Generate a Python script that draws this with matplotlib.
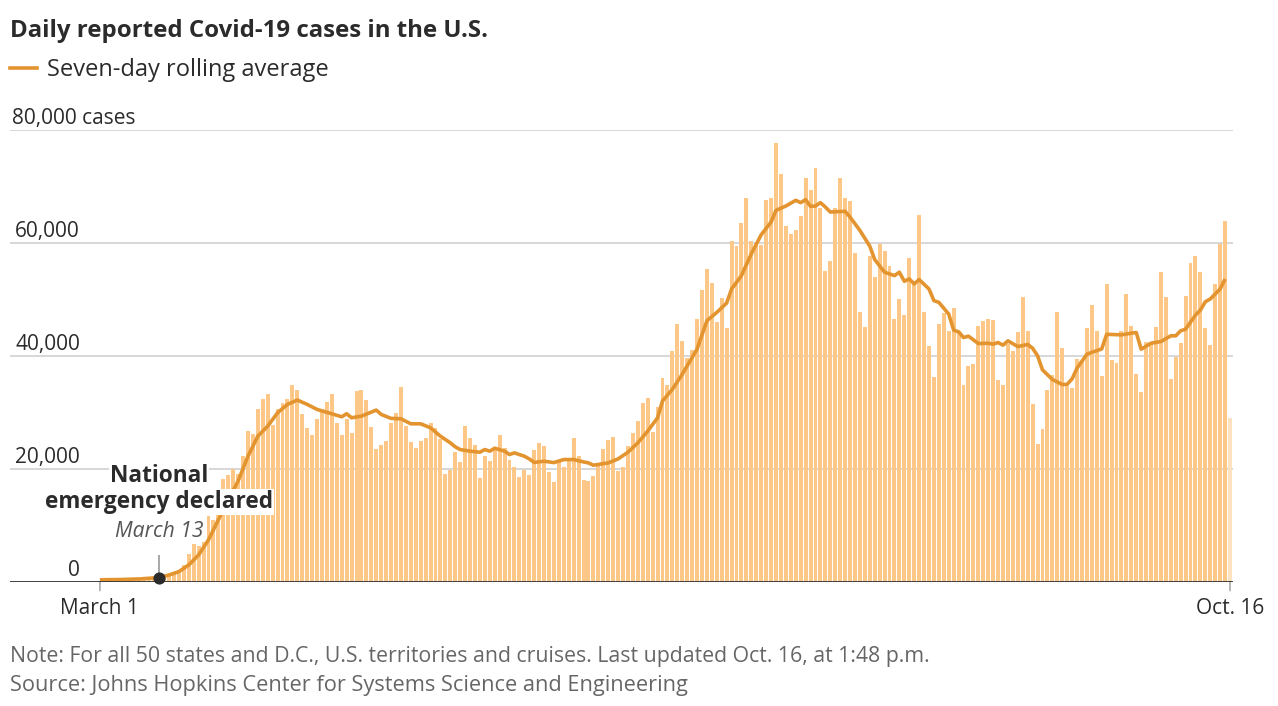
import matplotlib
matplotlib.use("Agg")
import matplotlib.pyplot as plt
from matplotlib.transforms import blended_transform_factory

plt.rcParams['font.family'] = ['Open Sans', 'DejaVu Sans']

# daily reported cases, March 1 (day 0) .. Oct. 16 (day 229)
cases = [
    10, 20, 25, 30, 70, 70, 100, 120, 200, 290, 280, 420, 650, 900,
    1100, 1750, 1930, 2930, 4890, 6610, 6310, 6960, 11530, 10820, 11820, 18170, 18940, 19940, 19110,
    22190, 26630, 26050, 30620, 32300, 33300, 27800, 30500, 31700, 32300, 34900, 33900, 29600, 27200,
    26000, 28800, 30500, 31800, 33160, 28120, 25870, 28710, 26340, 33690, 33870, 32090, 27350, 23500,
    24200, 24980, 28120, 29780, 34520, 27530, 24800, 23680, 24860, 25450, 28120, 27110, 25280, 19110,
    19700, 23020, 21250, 27590, 25510, 24270, 18400, 22310, 21300, 23680, 25870, 23680, 21480, 20300,
    18520, 19820, 18880, 23230, 24570, 24090, 19470, 17630, 21120, 20230, 21900, 25460, 22190, 18050,
    17750, 18640, 20590, 23500, 25160, 25570, 19650, 20230, 24090, 26230, 28480, 31560, 32510, 26460,
    30850, 36000, 34760, 40860, 45600, 42640, 39560, 41040, 46500, 51650, 55380, 52840, 46020, 50230,
    44890, 60420, 59530, 63560, 68010, 60420, 59830, 59600, 67530, 67950, 77610, 72280, 62980, 61560,
    62200, 64690, 71560, 69430, 73340, 66200, 55090, 56870, 66170, 71560, 68010, 67420, 58170, 47680,
    45130, 57760, 54020, 59830, 58590, 55980, 46500, 50050, 47210, 57340, 53020, 64870, 47680, 41690,
    36180, 45600, 47500, 44420, 48450, 44420, 34760, 38130, 38490, 45310, 46140, 46500, 46320, 35650,
    34820, 42050, 40870, 44120, 50350, 44300, 31380, 24300, 27060, 33870, 36600, 47800, 41400, 34600,
    34200, 39500, 39000, 45000, 49000, 44300, 36500, 52720, 39200, 38730, 44360, 50940, 45190, 36720,
    33640, 42350, 42350, 45130, 54800, 50350, 35830, 39800, 42230, 50650, 56450, 57700, 54910, 44890,
    41990, 52720, 59780, 63920, 28950,
]

# seven-day rolling average as drawn, (day, cases)
avg_days = [0, 4, 8, 12, 14, 16, 18, 20, 22, 24, 26, 28, 30, 32, 34, 36, 38, 40, 42, 44, 47, 49,
            50, 51, 53, 56, 57, 59, 61, 63, 65, 67, 69, 71, 72, 73, 75, 77, 78, 79, 80, 82, 83, 84,
            86, 87, 88, 90, 92, 94, 96, 98, 99, 100, 102, 103, 105, 107, 109, 111, 113, 114, 116,
            118, 121, 123, 125, 127, 128, 130, 132, 134, 136, 137, 139, 141, 142, 143, 144, 145,
            146, 147, 148, 151, 152, 154, 156, 157, 159, 161, 162, 163, 164, 165, 166, 168, 169,
            170, 172, 173, 174, 175, 176, 178, 180, 181, 182, 183, 184, 186, 188, 189, 190, 191,
            193, 195, 196, 197, 198, 200, 201, 203, 204, 207, 209, 210, 211, 213, 215, 217, 218,
            219, 220, 222, 223, 224, 225, 227, 228]
avg_vals = [300, 350, 450, 700, 1150, 1750, 2930, 4710, 7380, 10940, 14490, 17800, 22190, 25750,
            27530, 29900, 31380, 32150, 31380, 30490, 29720, 29190, 29720, 29010, 29310, 30370,
            29600, 28900, 28830, 27940, 27940, 27230, 25750, 24570, 23860, 23380, 23090, 22910,
            23380, 23090, 23620, 23090, 22500, 22790, 22200, 21720, 21100, 21310, 21070, 21610,
            21610, 21190, 21010, 20600, 20890, 21010, 21720, 22910, 24570, 26640, 29010, 31980,
            34050, 36720, 41160, 46200, 47680, 49340, 51830, 54200, 58060, 61440, 63690, 65760,
            66530, 67540, 67130, 67660, 66470, 66530, 67130, 66350, 65470, 65590, 64580, 62210,
            59420, 57050, 54800, 54200, 54800, 53200, 53620, 52730, 53500, 51830, 49760, 49460,
            47380, 44540, 44240, 43230, 43470, 42160, 42220, 42050, 42340, 41870, 42640, 41630,
            42000, 41330, 40000, 37500, 35800, 34900, 34940, 35900, 37800, 40270, 40600, 41200,
            43800, 43700, 44000, 44120, 41160, 42220, 42520, 43530, 43530, 44420, 44710, 47200,
            48090, 49570, 50050, 51830, 53610]

y_ticks = [0, 20000, 40000, 60000, 80000]
y_labels = ['0', '20,000', '40,000', '60,000', '80,000 cases']
x_ticks = [0, 229]
x_labels = ['March 1', 'Oct. 16']

emergency_day = 12
emergency_val = 700

bar_color = '#fcc787'
partial_color = '#fde2c0'
line_color = '#e3942f'
text_color = '#2b2b2b'
grey = '#666666'

W, H = 1278, 706
fig = plt.figure(figsize=(W / 100, H / 100), dpi=100)
ax = fig.add_axes([10 / W, (H - 581.5) / H, 1223 / W, 451.5 / H])
px_per_day = 4.939
ax.set_xlim(-90 / px_per_day, 229 + 3 / px_per_day)
ax.set_ylim(0, 80000)
ax.axis('off')

for v in y_ticks[1:]:
    ax.axhline(v, color='#cdcdcd', lw=1.1, zorder=0)
ax.axhline(0, color='#333333', lw=1.3, zorder=4)

days = list(range(len(cases)))
colors = [bar_color] * (len(cases) - 1) + [partial_color]
ax.bar(days, cases, width=0.8, color=colors, zorder=1, linewidth=0)
ax.plot(avg_days, avg_vals, color=line_color, lw=2.6, zorder=3, solid_capstyle='butt',
        solid_joinstyle='round', clip_on=False)

# y labels
tr = blended_transform_factory(ax.transAxes, ax.transData)
lab_x = 70 / 1223
for v, lab in zip(y_ticks, y_labels):
    if lab.endswith('cases'):
        ax.annotate(lab, xy=(2 / 1223, v), xycoords=tr, xytext=(0, 6), textcoords='offset pixels',
                    ha='left', va='baseline', fontsize=15, color=text_color)
    else:
        ax.annotate(lab, xy=(lab_x, v), xycoords=tr, xytext=(0, 6), textcoords='offset pixels',
                    ha='right', va='baseline', fontsize=15, color=text_color)

# x ticks and labels
for d, lab in zip(x_ticks, x_labels):
    ax.annotate('', xy=(d, 0), xytext=(d, -9 * 177.3), xycoords='data',
                arrowprops=dict(arrowstyle='-', color='#aaaaaa', lw=1.2, shrinkA=0, shrinkB=0),
                annotation_clip=False)
    ax.annotate(lab, xy=(d, 0), xytext=(0, -33), textcoords='offset pixels',
                ha='center', va='baseline', fontsize=15, color=text_color, annotation_clip=False)

# national emergency note
ax.vlines(emergency_day, emergency_val, 4700, color='#999999', lw=1.2, zorder=5)
ax.scatter([emergency_day], [emergency_val], s=60, color='#2b2b2b', zorder=6, clip_on=False)
box = dict(boxstyle='square,pad=0.04', facecolor='white', edgecolor='none')
ax.text(emergency_day, 17650, 'National', ha='center', va='baseline', fontsize=16.3,
        fontweight='bold', color=text_color, zorder=7, bbox=box)
ax.text(emergency_day, 13000, 'emergency declared', ha='center', va='baseline', fontsize=16.3,
        fontweight='bold', color=text_color, zorder=7, bbox=box)
ax.text(emergency_day, 7900, 'March 13', ha='center', va='baseline', fontsize=15.2,
        fontstyle='italic', color='#555555', zorder=7)

# title, legend, notes
fig.text(10 / W, 1 - 37 / H, 'Daily reported Covid-19 cases in the U.S.', fontsize=17.3,
         fontweight='bold', color=text_color, va='baseline', ha='left')
fig.add_artist(plt.Line2D([10 / W, 37 / W], [1 - 68 / H, 1 - 68 / H], color=line_color, lw=2.6))
fig.text(47 / W, 1 - 76 / H, 'Seven-day rolling average', fontsize=17,
         color=text_color, va='baseline', ha='left')
fig.text(10 / W, 1 - 662 / H,
         'Note: For all 50 states and D.C., U.S. territories and cruises. Last updated Oct. 16, at 1:48 p.m.',
         fontsize=15.3, color=grey, va='baseline', ha='left')
fig.text(10 / W, 1 - 691 / H, 'Source: Johns Hopkins Center for Systems Science and Engineering',
         fontsize=15.7, color=grey, va='baseline', ha='left')

fig.savefig('out.png', dpi=100, facecolor='white')
